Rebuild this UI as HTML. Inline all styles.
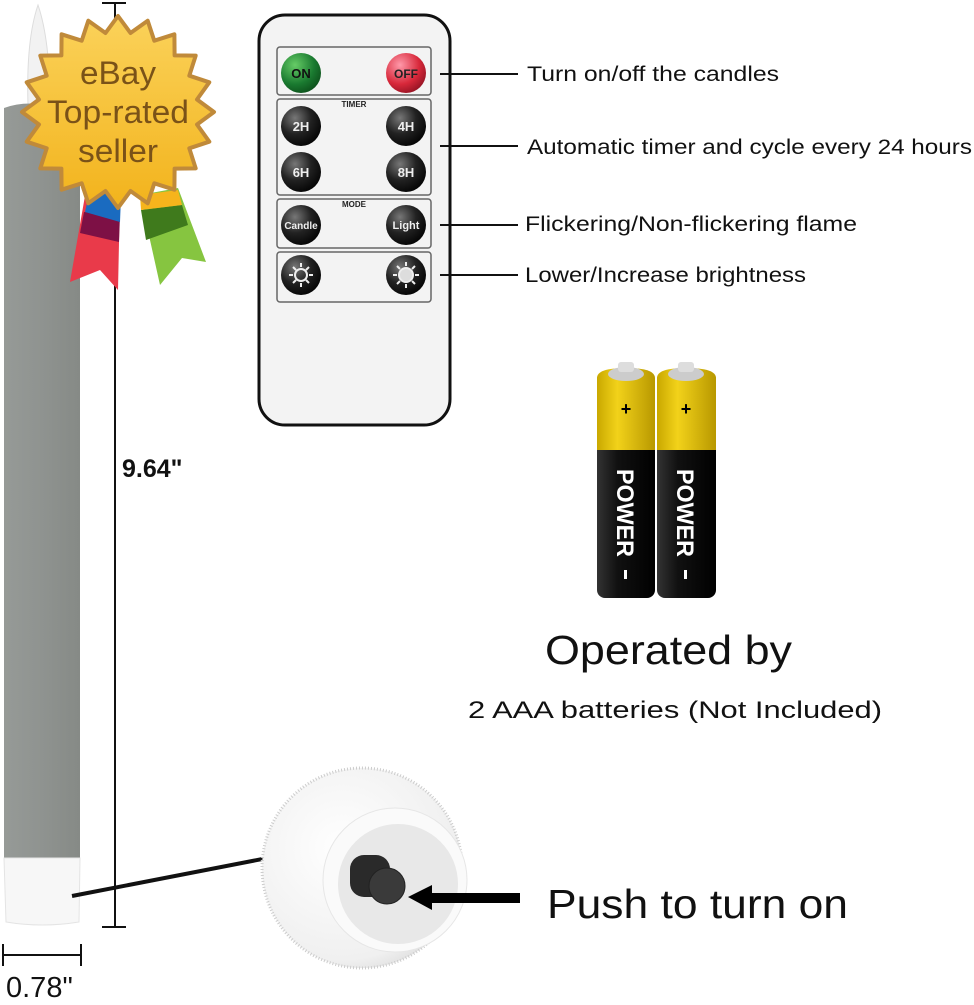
<!DOCTYPE html>
<html><head><meta charset="utf-8"><style>
body{margin:0;background:#fff;width:974px;height:1000px;overflow:hidden;font-family:"Liberation Sans",sans-serif}
</style></head><body>
<svg width="974" height="1000" viewBox="0 0 974 1000" xmlns="http://www.w3.org/2000/svg">
<defs>
<linearGradient id="wax" x1="0" x2="1"><stop offset="0" stop-color="#969a97"/><stop offset=".5" stop-color="#8f9390"/><stop offset="1" stop-color="#868a86"/></linearGradient>
<radialGradient id="bk" cx=".35" cy=".3" r=".8"><stop offset="0" stop-color="#777"/><stop offset=".5" stop-color="#222"/><stop offset="1" stop-color="#000"/></radialGradient>
<radialGradient id="gr" cx=".35" cy=".3" r=".8"><stop offset="0" stop-color="#6c6"/><stop offset=".6" stop-color="#1a7a30"/><stop offset="1" stop-color="#0b4a18"/></radialGradient>
<radialGradient id="rd" cx=".35" cy=".3" r=".8"><stop offset="0" stop-color="#f9a"/><stop offset=".6" stop-color="#d8283a"/><stop offset="1" stop-color="#8a1020"/></radialGradient>
<linearGradient id="gold" x1="0" y1="0" x2="0" y2="1"><stop offset="0" stop-color="#fbd25a"/><stop offset="1" stop-color="#f2b31c"/></linearGradient>
<linearGradient id="bat" x1="0" x2="1"><stop offset="0" stop-color="#333"/><stop offset=".35" stop-color="#111"/><stop offset="1" stop-color="#000"/></linearGradient>
<linearGradient id="yel" x1="0" x2="1"><stop offset="0" stop-color="#c9a800"/><stop offset=".35" stop-color="#f2d21a"/><stop offset="1" stop-color="#b89800"/></linearGradient>
<radialGradient id="cap" cx=".4" cy=".4" r=".7"><stop offset="0" stop-color="#fff"/><stop offset=".8" stop-color="#f0f0f0"/><stop offset="1" stop-color="#d8d8d8"/></radialGradient>
</defs>
<!-- candle -->
<path d="M28 105 Q26 40 38 5 Q50 40 50 105 Z" fill="#f2f2f2" stroke="#ddd"/>
<path d="M4 108 Q20 102 40 104 Q60 100 80 106 L80 860 L4 860 Z" fill="url(#wax)"/>
<path d="M4 858 L80 858 L79 922 Q42 928 6 922 Z" fill="#f7f7f7" stroke="#e4e4e4"/>
<!-- dimension -->
<line x1="115" y1="3" x2="115" y2="927" stroke="#111" stroke-width="2"/>
<line x1="102" y1="3" x2="126" y2="3" stroke="#111" stroke-width="2"/>
<line x1="102" y1="927" x2="126" y2="927" stroke="#111" stroke-width="2"/>
<text x="122" y="477" font-size="25" font-weight="bold" fill="#111">9.64"</text>
<line x1="3" y1="955" x2="81" y2="955" stroke="#111" stroke-width="2"/>
<line x1="3" y1="944" x2="3" y2="966" stroke="#111" stroke-width="2"/>
<line x1="81" y1="944" x2="81" y2="966" stroke="#111" stroke-width="2"/>
<text x="6" y="997" font-size="29" fill="#111">0.78"</text>
<line x1="72" y1="896" x2="283" y2="855" stroke="#111" stroke-width="4"/>
<!-- ribbons -->
<path d="M86 190 L120 195 L118 290 L100 270 L70 282 Z" fill="#e93a4a"/>
<path d="M84 212 L120 215 L119 242 L80 233 Z" fill="#7d1045"/>
<path d="M90 190 L121 196 L120 222 L85 212 Z" fill="#1a6bc0"/>
<path d="M140 195 L178 188 L206 262 L182 258 L160 285 Z" fill="#86c540"/>
<path d="M141 210 L182 205 L188 225 L146 240 Z" fill="#3f7a1c"/>
<path d="M140 195 L178 190 L182 205 L141 210 Z" fill="#f6b41c"/>
<!-- badge -->
<g transform="translate(6,-6)">
<polygon points="208,118 191,130.5 203.3,147.7 183.3,154.3 189.7,174.4 168.6,174.6 168.4,195.7 148.3,189.3 141.7,209.3 124.5,197 112,214 99.5,197 82.3,209.3 75.7,189.3 55.6,195.7 55.4,174.6 34.3,174.4 40.7,154.3 20.7,147.7 33,130.5 16,118 33,105.5 20.7,88.3 40.7,81.7 34.3,61.6 55.4,61.4 55.6,40.3 75.7,46.7 82.3,26.7 99.5,39 112,22 124.5,39 141.7,26.7 148.3,46.7 168.4,40.3 168.6,61.4 189.7,61.6 183.3,81.7 203.3,88.3 191,105.5" fill="url(#gold)" stroke="#c08a3a" stroke-width="4" stroke-linejoin="round"/>
<text x="112" y="90" font-size="32" fill="#7a5218" text-anchor="middle" textLength="76" lengthAdjust="spacingAndGlyphs">eBay</text>
<text x="112" y="129" font-size="32" fill="#7a5218" text-anchor="middle" textLength="142" lengthAdjust="spacingAndGlyphs">Top-rated</text>
<text x="112" y="168" font-size="32" fill="#7a5218" text-anchor="middle" textLength="80" lengthAdjust="spacingAndGlyphs">seller</text>
</g>
<!-- remote -->
<rect x="259" y="15" width="191" height="410" rx="26" fill="#f3f3f3" stroke="#111" stroke-width="3"/>
<g fill="none" stroke="#666" stroke-width="1.5">
<rect x="277" y="47" width="154" height="48" rx="3"/>
<rect x="277" y="99" width="154" height="96" rx="3"/>
<rect x="277" y="199" width="154" height="49" rx="3"/>
<rect x="277" y="252" width="154" height="50" rx="3"/>
</g>
<text x="354" y="107" font-size="8" font-weight="bold" text-anchor="middle" fill="#222">TIMER</text>
<text x="354" y="207" font-size="8" font-weight="bold" text-anchor="middle" fill="#222">MODE</text>
<circle cx="301" cy="73" r="20" fill="url(#gr)"/><circle cx="406" cy="73" r="20" fill="url(#rd)"/>
<circle cx="301" cy="126" r="20" fill="url(#bk)"/><circle cx="406" cy="126" r="20" fill="url(#bk)"/>
<circle cx="301" cy="172" r="20" fill="url(#bk)"/><circle cx="406" cy="172" r="20" fill="url(#bk)"/>
<circle cx="301" cy="225" r="20" fill="url(#bk)"/><circle cx="406" cy="225" r="20" fill="url(#bk)"/>
<circle cx="301" cy="275" r="20" fill="url(#bk)"/><circle cx="406" cy="275" r="20" fill="url(#bk)"/>
<g font-weight="bold" text-anchor="middle" font-size="13">
<text x="301" y="78" fill="#111">ON</text><text x="406" y="78" fill="#222" font-size="12">OFF</text>
<text x="301" y="131" fill="#eee">2H</text><text x="406" y="131" fill="#eee">4H</text>
<text x="301" y="177" fill="#eee">6H</text><text x="406" y="177" fill="#eee">8H</text>
<text x="301" y="229" fill="#eee" font-size="10">Candle</text><text x="406" y="229" fill="#eee" font-size="11">Light</text>
</g>
<g stroke="#eee" stroke-width="2"><circle cx="301" cy="275" r="6" fill="none"/><circle cx="406" cy="275" r="7" fill="#ddd"/>
<path d="M301 263v4M301 283v4M289 275h4M309 275h4M293 267l3 3M306 280l3 3M293 283l3-3M306 270l3-3"/>
<path d="M406 262v4M406 284v4M393 275h4M415 275h4M397 266l3 3M412 281l3 3M397 284l3-3M412 269l3-3"/></g>
<g stroke="#111" stroke-width="2"><line x1="440" y1="74" x2="518" y2="74"/><line x1="440" y1="146" x2="518" y2="146"/><line x1="440" y1="225" x2="518" y2="225"/><line x1="440" y1="275" x2="518" y2="275"/></g>
<g font-size="21" fill="#111" lengthAdjust="spacingAndGlyphs">
<text x="527" y="81" textLength="252" lengthAdjust="spacingAndGlyphs">Turn on/off the candles</text>
<text x="527" y="154" textLength="445" lengthAdjust="spacingAndGlyphs">Automatic timer and cycle every 24 hours</text>
<text x="525" y="231" textLength="332" lengthAdjust="spacingAndGlyphs">Flickering/Non-flickering flame</text>
<text x="525" y="282" textLength="281" lengthAdjust="spacingAndGlyphs">Lower/Increase brightness</text>
</g>
<!-- batteries -->
<g>
<rect x="597" y="372" width="58" height="226" rx="8" fill="url(#bat)"/>
<path d="M597 450 L597 378 Q597 368 626 368 Q655 368 655 378 L655 450 Z" fill="url(#yel)"/>
<ellipse cx="626" cy="374" rx="18" ry="7" fill="#ccc"/><rect x="618" y="362" width="16" height="10" rx="3" fill="#ddd"/>
<text x="626" y="415" font-size="18" font-weight="bold" text-anchor="middle">+</text>
<text transform="translate(617,513) rotate(90)" font-size="24" font-weight="bold" fill="#fff" text-anchor="middle" textLength="88" lengthAdjust="spacingAndGlyphs">POWER</text>
<rect x="624" y="570" width="3" height="9" fill="#fff"/>
<rect x="657" y="372" width="59" height="226" rx="8" fill="url(#bat)"/>
<path d="M657 450 L657 378 Q657 368 686 368 Q716 368 716 378 L716 450 Z" fill="url(#yel)"/>
<ellipse cx="686" cy="374" rx="18" ry="7" fill="#ccc"/><rect x="678" y="362" width="16" height="10" rx="3" fill="#ddd"/>
<text x="686" y="415" font-size="18" font-weight="bold" text-anchor="middle">+</text>
<text transform="translate(677,513) rotate(90)" font-size="24" font-weight="bold" fill="#fff" text-anchor="middle" textLength="88" lengthAdjust="spacingAndGlyphs">POWER</text>
<rect x="684" y="570" width="3" height="9" fill="#fff"/>
</g>
<text x="545" y="664" font-size="41" fill="#111" textLength="247" lengthAdjust="spacingAndGlyphs">Operated by</text>
<text x="468" y="718" font-size="24" fill="#111" textLength="414" lengthAdjust="spacingAndGlyphs">2 AAA batteries (Not Included)</text>
<!-- cap -->
<ellipse cx="362" cy="868" rx="100" ry="100" fill="url(#cap)" stroke="#ccc" stroke-width="3" stroke-dasharray="1 2"/>
<circle cx="395" cy="880" r="72" fill="#fafafa" stroke="#e6e6e6"/>
<circle cx="398" cy="884" r="60" fill="#e8e8e8"/>
<rect x="350" y="855" width="40" height="42" rx="14" fill="#2a2a2a"/>
<circle cx="387" cy="886" r="18" fill="#3a3a3a" stroke="#222"/>
<polygon points="408,897 432,885 432,893 520,893 520,903 432,903 432,910" fill="#000"/>
<text x="547" y="918" font-size="41" fill="#111" textLength="301" lengthAdjust="spacingAndGlyphs">Push to turn on</text>
</svg>
</body></html>
